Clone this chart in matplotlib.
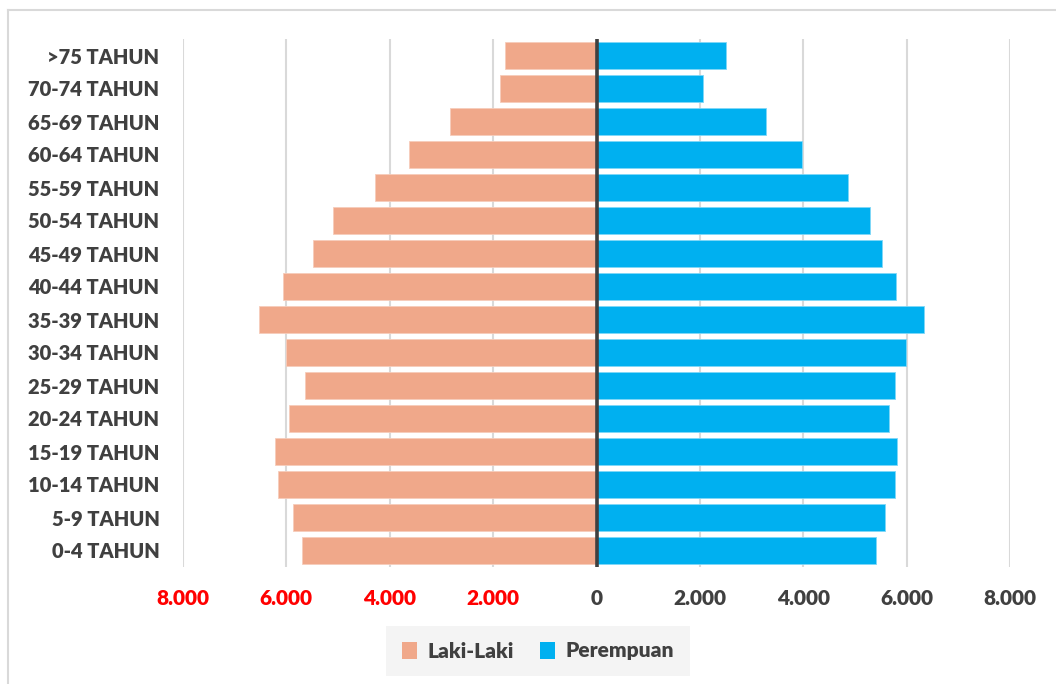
import matplotlib
matplotlib.use("Agg")
import matplotlib.pyplot as plt
from matplotlib.lines import Line2D
from matplotlib.patches import Patch
from matplotlib.ticker import FixedLocator, FuncFormatter

# Age groups, bottom to top
age_groups = ["0-4 TAHUN", "5-9 TAHUN", "10-14 TAHUN", "15-19 TAHUN", "20-24 TAHUN",
              "25-29 TAHUN", "30-34 TAHUN", "35-39 TAHUN", "40-44 TAHUN", "45-49 TAHUN",
              "50-54 TAHUN", "55-59 TAHUN", "60-64 TAHUN", "65-69 TAHUN", "70-74 TAHUN",
              ">75 TAHUN"]

laki_laki = [5690, 5865, 6165, 6220, 5950, 5640, 6000, 6520, 6065, 5485,
             5100, 4290, 3635, 2830, 1860, 1775]
perempuan = [5405, 5575, 5775, 5820, 5660, 5775, 5995, 6345, 5795, 5525,
             5290, 4860, 3970, 3270, 2065, 2505]

x_ticks = [-8000, -6000, -4000, -2000, 0, 2000, 4000, 6000, 8000]

MALE = "#F0A88A"
FEMALE = "#00B0F0"
TEXT = "#404040"
GRID = "#D9D9D9"
FONT = "Lato"
WEIGHT = "heavy"

fig = plt.figure(figsize=(10.56, 6.84), dpi=100)
W, H = 1056, 684
ax = fig.add_axes([183 / W, 1 - 567 / H, (1010 - 183) / W, (567 - 39) / H])

y = list(range(len(age_groups)))
ax.barh(y, [-v for v in laki_laki], height=0.82, color=MALE, edgecolor="#F6CDBB",
        linewidth=0.6, zorder=2)
ax.barh(y, perempuan, height=0.82, color=FEMALE, edgecolor="#7FD7F7",
        linewidth=0.6, zorder=2)

ax.set_xlim(-8000, 8000)
ax.set_ylim(-0.5, len(age_groups) - 0.5)
ax.axvline(0, color=TEXT, lw=2.6, zorder=3)

ax.xaxis.set_major_locator(FixedLocator(x_ticks))
ax.xaxis.set_major_formatter(FuncFormatter(lambda v, p: f"{abs(int(v)):,}".replace(",", ".")))
ax.grid(axis="x", color=GRID, lw=1.5, zorder=0)
ax.set_axisbelow(True)
for s in ax.spines.values():
    s.set_visible(False)

ax.set_yticks(y)
ax.set_yticklabels(age_groups, fontfamily=FONT, fontweight=WEIGHT, fontsize=14.5, color=TEXT)
ax.tick_params(axis="y", length=0, pad=17)
ax.tick_params(axis="x", length=0, pad=16)
for lbl, v in zip(ax.get_xticklabels(), x_ticks):
    lbl.set_fontfamily(FONT)
    lbl.set_fontweight(WEIGHT)
    lbl.set_fontsize(15)
    lbl.set_color("#FF0000" if v < 0 else TEXT)

handles = [Patch(facecolor=MALE, edgecolor="none", label="Laki-Laki"),
           Patch(facecolor=FEMALE, edgecolor="none", label="Perempuan")]
leg = fig.legend(handles=handles, loc="center", bbox_to_anchor=(538 / W, 1 - 651 / H),
                 ncol=2, frameon=True, facecolor="#F2F2F2", edgecolor="none",
                 fancybox=False, handlelength=0.7, handleheight=0.9, handletextpad=0.5,
                 columnspacing=1.3, borderpad=0.75,
                 prop={"family": FONT, "weight": WEIGHT, "size": 15})
for t in leg.get_texts():
    t.set_color(TEXT)

# Light frame around the chart area
fig.add_artist(Line2D([8 / W, 1], [1 - 10 / H, 1 - 10 / H], color=GRID, lw=1.5))
fig.add_artist(Line2D([8 / W, 8 / W], [0, 1 - 10 / H], color=GRID, lw=1.5))

fig.savefig("out.png", dpi=100, facecolor="white")
